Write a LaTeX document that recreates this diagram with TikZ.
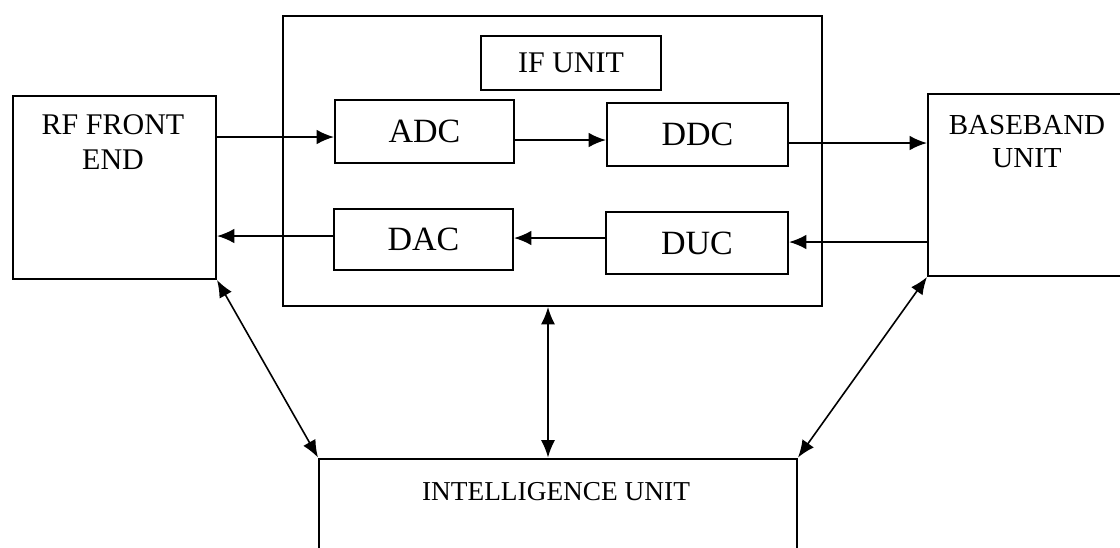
\documentclass[tikz,border=0pt]{standalone}
\usepackage{fontspec}
\setmainfont{Liberation Serif}
\usetikzlibrary{arrows.meta}

\tikzset{
  box/.style={draw, line width=1.5pt, rectangle, inner sep=0pt},
  blocklabel/.style={font=\fontsize{25.5}{30}\selectfont},
  unitlabel/.style={font=\fontsize{22.5}{26}\selectfont, align=center, inner sep=0pt},
  link/.style={line width=1.5pt, -{Latex[length=13pt,width=11pt]}},
  duplex/.style={line width=1.2pt, {Latex[length=13pt,width=10.5pt]}-{Latex[length=13pt,width=10.5pt]}}
}

\begin{document}
\begin{tikzpicture}[x=0.75pt, y=-0.75pt]
  \useasboundingbox (0,0) rectangle (1120,547);
  \clip (0,0) rectangle (1120,547);

  % RF front end
  \node[box, minimum width=152.25pt, minimum height=137.25pt] (rf) at (114.5,187.5) {};
  \node[unitlabel, font=\fontsize{22.5}{26.25}\selectfont] (rftext) at (113,142.5) {RF FRONT\\END};

  % IF unit with its four blocks
  \node[box, minimum width=404.25pt, minimum height=217.5pt] (ifu) at (552.5,161) {};
  \node[box, minimum width=135pt, minimum height=40.5pt, font=\fontsize{22.5}{26}\selectfont] (iftitle) at (571,63) {IF UNIT};
  \node[box, blocklabel, minimum width=134.25pt, minimum height=47.25pt] (adc) at (424.5,131.5) {ADC};
  \node[box, blocklabel, minimum width=135.75pt, minimum height=47.25pt] (ddc) at (697.5,134.5) {DDC};
  \node[box, blocklabel, minimum width=134.25pt, minimum height=45.75pt] (dac) at (423.5,239.5) {DAC};
  \node[box, blocklabel, minimum width=136.5pt, minimum height=46.5pt] (duc) at (697,243) {DUC};

  % Baseband unit (runs past the right border)
  \node[box, minimum width=151.5pt, minimum height=136.5pt] (bb) at (1029,185) {};
  \node[unitlabel, font=\fontsize{21.75}{24.75}\selectfont] (bbtext) at (1027,141.5) {BASEBAND\\UNIT};

  % Intelligence unit (runs past the bottom border)
  \node[box, minimum width=358.5pt, minimum height=83.6pt] (intel) at (558,514.25) {};
  \node[unitlabel, font=\fontsize{20.5}{24}\selectfont] (inteltext) at (556,492) {INTELLIGENCE UNIT};

  % receive path
  \draw[link] (rf.east |- 0,137) -- (adc.west |- 0,137);
  \draw[link] (adc.east |- 0,140) -- (ddc.west |- 0,140);
  \draw[link] (ddc.east |- 0,143) -- (bb.west |- 0,143);

  % transmit path
  \draw[link] (bb.west |- 0,242) -- (duc.east |- 0,242);
  \draw[link] (duc.west |- 0,238) -- (dac.east |- 0,238);
  \draw[link] (dac.west |- 0,236) -- (rf.east |- 0,236);

  % control links to the intelligence unit
  \draw[duplex] (rf.south east) -- (intel.north west);
  \draw[duplex] (ifu.south -| 548,0) -- (intel.north -| 548,0);
  \draw[duplex] (bb.south west) -- (intel.north east);
\end{tikzpicture}
\end{document}
